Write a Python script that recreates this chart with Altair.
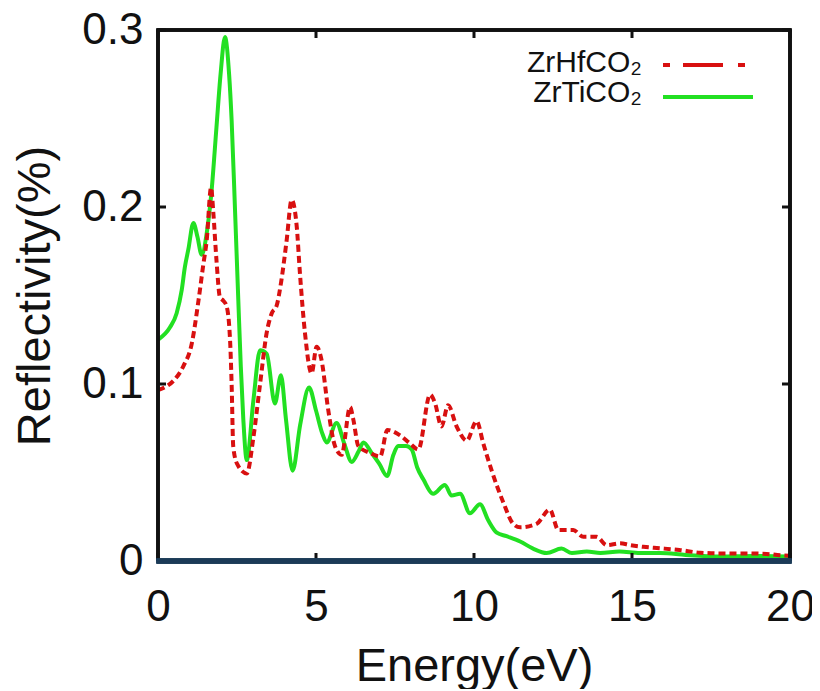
import altair as alt
import pandas as pd

series_names = ["ZrHfCO\u2082", "ZrTiCO\u2082"]

x_ticks = [0, 5, 10, 15, 20]
y_ticks = [0, 0.1, 0.2, 0.3]

red_x = [0, 0.3, 0.5, 0.8, 1.07, 1.28, 1.43, 1.54, 1.68, 1.75, 1.85, 1.96, 2.07, 2.17,
         2.28, 2.33, 2.38, 2.5, 2.81, 3.02, 3.23, 3.44, 3.6, 3.75, 3.9, 4.07, 4.23,
         4.39, 4.49, 4.65, 4.86, 5.02, 5.17, 5.39, 5.6, 5.81, 6.08, 6.18, 6.34, 6.71,
         7.03, 7.26, 7.66, 7.97, 8.24, 8.61, 8.77, 8.97, 9.18, 9.45, 9.77, 10.08, 10.3,
         10.56, 10.93, 11.24, 11.46, 11.98, 12.4, 12.67, 13.14, 13.46, 13.88, 14.2,
         14.62, 14.94, 15.36, 15.89, 16.5, 17.15, 17.8, 18.6, 19.26, 19.6, 20]
red_y = [0.0966, 0.099, 0.102, 0.11, 0.123, 0.147, 0.167, 0.181, 0.211, 0.197, 0.17,
         0.149, 0.147, 0.144, 0.125, 0.1, 0.065, 0.055, 0.0495, 0.07, 0.1, 0.129, 0.14,
         0.144, 0.158, 0.181, 0.204, 0.189, 0.163, 0.129, 0.106, 0.121, 0.114, 0.085,
         0.065, 0.06, 0.087, 0.08, 0.065, 0.061, 0.059, 0.074, 0.071, 0.0665, 0.063,
         0.094, 0.089, 0.076, 0.088, 0.076, 0.068, 0.079, 0.066, 0.051, 0.033, 0.021,
         0.019, 0.021, 0.029, 0.0175, 0.0175, 0.0137, 0.0137, 0.009, 0.01, 0.009, 0.008,
         0.0072, 0.0062, 0.0047, 0.0043, 0.0043, 0.004, 0.0034, 0.003]

green_x = [0, 0.38, 0.59, 0.75, 0.85, 0.96, 1.12, 1.25, 1.38, 1.54, 1.7, 1.85, 1.98,
           2.12, 2.25, 2.33, 2.44, 2.54, 2.62, 2.7, 2.81, 3.02, 3.23, 3.44, 3.7, 3.89,
           4.05, 4.26, 4.5, 4.78, 5.0, 5.2, 5.34, 5.65, 5.9, 6.13, 6.35, 6.5, 6.76, 7.0,
           7.25, 7.45, 7.6, 7.85, 8.03, 8.2, 8.4, 8.71, 9.08, 9.29, 9.56, 9.87, 10.19,
           10.45, 10.72, 11.03, 11.46, 11.87, 12.3, 12.77, 13.1, 13.57, 14.0, 14.6,
           15.25, 15.9, 16.7, 17.8, 18.8, 19.9, 20]
green_y = [0.125, 0.132, 0.14, 0.153, 0.166, 0.176, 0.191, 0.183, 0.173, 0.185, 0.21,
           0.245, 0.275, 0.296, 0.275, 0.249, 0.197, 0.148, 0.11, 0.08, 0.057, 0.091,
           0.119, 0.117, 0.089, 0.105, 0.08, 0.051, 0.077, 0.098, 0.085, 0.072, 0.067,
           0.078, 0.066, 0.056, 0.062, 0.067, 0.061, 0.055, 0.048, 0.06, 0.065, 0.065,
           0.063, 0.053, 0.046, 0.038, 0.043, 0.037, 0.038, 0.027, 0.032, 0.023, 0.016,
           0.014, 0.011, 0.007, 0.0045, 0.007, 0.0045, 0.0053, 0.0045, 0.0053, 0.0045,
           0.0045, 0.0034, 0.0025, 0.0028, 0.0025, 0.002]

RED = "#d81010"
GREEN = "#22e022"
FONT = "Liberation Sans"
W, H = 632, 531

red_df = pd.DataFrame({"x": red_x, "y": red_y})
green_df = pd.DataFrame({"x": green_x, "y": green_y})
xt_df = pd.DataFrame({"x": x_ticks})
yt_df = pd.DataFrame({"y": y_ticks})

xscale = alt.Scale(domain=[0, 20], nice=False, zero=False)
yscale = alt.Scale(domain=[0, 0.3], nice=False, zero=False)

xaxis = alt.Axis(values=x_ticks, format="d", title="Energy(eV)", grid=False,
                 ticks=False, tickSize=0, domain=False, labelFlush=False,
                 labelPadding=24, labelFontSize=44,
                 labelFont=FONT, labelColor="#111111", labelBaseline="top",
                 titleFont=FONT, titleFontSize=47, titleFontWeight="normal",
                 titleColor="#111111", titleX=W / 2, titleY=119,
                 titleBaseline="alphabetic", titleAlign="center")
yaxis = alt.Axis(values=y_ticks, format=".1~f", title="Reflectivity(%)", grid=False,
                 ticks=False, tickSize=0, domain=False, labelFlush=False,
                 labelPadding=15, labelFontSize=44,
                 labelFont=FONT, labelColor="#111111", labelBaseline="middle",
                 titleFont=FONT, titleFontSize=47, titleFontWeight="normal",
                 titleColor="#111111", titleX=-109, titleY=H / 2, titleAngle=270,
                 titleBaseline="alphabetic", titleAlign="center")

X = lambda: alt.X("x:Q", scale=xscale, axis=xaxis)
Y = lambda: alt.Y("y:Q", scale=yscale, axis=yaxis)

green_line = alt.Chart(green_df).mark_line(color=GREEN, strokeWidth=4, clip=True,
                                           interpolate="monotone").encode(x=X(), y=Y())
red_line = alt.Chart(red_df).mark_line(color=RED, strokeWidth=4, strokeDash=[7, 4],
                                       clip=True, interpolate="monotone").encode(x=X(), y=Y())

tick_style = dict(color="#111111", strokeWidth=3)
bottom_ticks = alt.Chart(xt_df).mark_rule(**tick_style).encode(
    x=X(), y=alt.value(H), y2=alt.value(H - 8))
top_ticks = alt.Chart(xt_df).mark_rule(**tick_style).encode(
    x=X(), y=alt.value(0), y2=alt.value(8))
left_ticks = alt.Chart(yt_df).mark_rule(**tick_style).encode(
    y=Y(), x=alt.value(0), x2=alt.value(8))
right_ticks = alt.Chart(yt_df).mark_rule(**tick_style).encode(
    y=Y(), x=alt.value(W), x2=alt.value(W - 8))

frame = dict(color="#111111", strokeWidth=3)
top_border = alt.Chart(xt_df).mark_rule(**frame).encode(
    x=alt.value(-1.5), x2=alt.value(W + 1.5), y=alt.value(0))
right_border = alt.Chart(xt_df).mark_rule(**frame).encode(
    x=alt.value(W), y=alt.value(0), y2=alt.value(H))
left_border = alt.Chart(xt_df).mark_rule(**frame).encode(
    x=alt.value(0), y=alt.value(0), y2=alt.value(H))
bottom_border = alt.Chart(xt_df).mark_rule(color="#1b3a57", strokeWidth=5).encode(
    x=alt.value(-1.5), x2=alt.value(W + 1.5), y=alt.value(H))

leg_red_df = pd.DataFrame({"label": [series_names[0]]})
leg_green_df = pd.DataFrame({"label": [series_names[1]]})
leg_text_style = dict(align="right", baseline="alphabetic", font=FONT, fontSize=30,
                      color="#111111")
leg_red_text = alt.Chart(leg_red_df).mark_text(**leg_text_style).encode(
    text="label:N", x=alt.value(484), y=alt.value(42))
leg_green_text = alt.Chart(leg_green_df).mark_text(**leg_text_style).encode(
    text="label:N", x=alt.value(484), y=alt.value(72))
leg_red_rule = alt.Chart(leg_red_df).mark_rule(color=RED, strokeWidth=4,
                                               strokeDash=[7, 13, 40, 15]).encode(
    x=alt.value(505), x2=alt.value(587), y=alt.value(35))
leg_green_rule = alt.Chart(leg_green_df).mark_rule(color=GREEN, strokeWidth=4).encode(
    x=alt.value(505), x2=alt.value(595), y=alt.value(67))

chart = alt.layer(
    green_line, red_line, bottom_ticks, top_ticks, left_ticks, right_ticks,
    top_border, right_border, left_border, bottom_border,
    leg_red_text, leg_green_text, leg_red_rule, leg_green_rule
).properties(
    width=W, height=H,
    autosize=alt.AutoSizeParams(type="none"),
    padding={"left": 150, "top": 22, "right": 22, "bottom": 128},
).configure_view(stroke="transparent").configure(background="white")

chart.save("out.html", embed_options={"renderer": "svg", "actions": False})
